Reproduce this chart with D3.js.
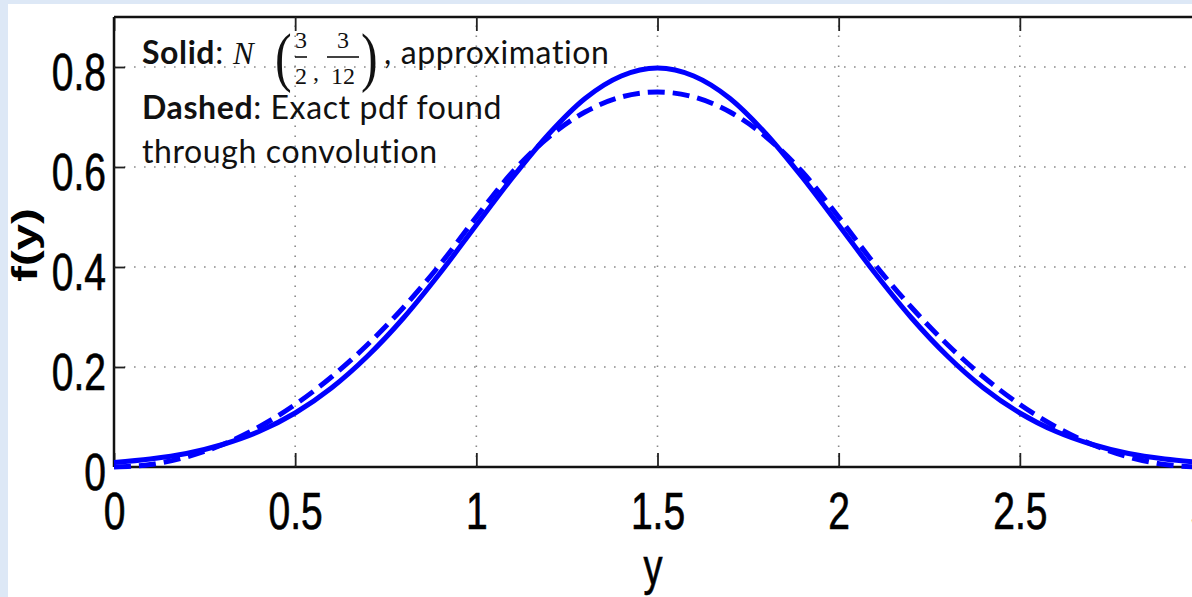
<!DOCTYPE html>
<html><head><meta charset="utf-8">
<script src="https://cdn.jsdelivr.net/npm/d3@7"></script>
<style>body{margin:0;background:#fff;overflow:hidden}</style>
</head><body><svg id="c" width="1192" height="597"></svg>
<script>
// ---- data ----
const yPoints = [0,0.1,0.2,0.3,0.4,0.5,0.6,0.7,0.8,0.9,1.0,1.1,1.2,1.3,1.4,1.5,1.6,1.7,1.8,1.9,2.0,2.1,2.2,2.3,2.4,2.5,2.6,2.7,2.8,2.9,3.0];
const solidApprox = [0.009,0.016,0.027,0.045,0.071,0.108,0.158,0.222,0.299,0.388,0.484,0.579,0.666,0.737,0.782,0.798,0.782,0.737,0.666,0.579,0.484,0.388,0.299,0.222,0.158,0.108,0.071,0.045,0.027,0.016,0.009];
const dashedExact = [0,0.005,0.02,0.045,0.08,0.125,0.18,0.245,0.32,0.405,0.5,0.59,0.66,0.71,0.74,0.75,0.74,0.71,0.66,0.59,0.5,0.405,0.32,0.245,0.18,0.125,0.08,0.045,0.02,0.005,0];
const xTicks = [0,0.5,1,1.5,2,2.5,3];
const xTickLabels = ["0","0.5","1","1.5","2","2.5","3"];
const yTicks = [0,0.2,0.4,0.6,0.8];
const yTickLabels = ["0","0.2","0.4","0.6","0.8"];
const xTitle = "y";
const yTitle = "f(y)";

// ---- layout ----
const svg = d3.select("#c");
const L = 114, R = 1201, T = 17, B = 467;
const x = d3.scaleLinear().domain([0,3]).range([L,R]);
const y = d3.scaleLinear().domain([0,0.9]).range([B,T]);
const tickFont = "'Liberation Sans Narrow','Liberation Sans',Arial,sans-serif";

// page decoration
svg.append("rect").attr("x",0).attr("y",0).attr("width",1192).attr("height",597).attr("fill","#fff");
svg.append("rect").attr("x",0).attr("y",0).attr("width",1192).attr("height",4).attr("fill","#dde8f6");
svg.append("rect").attr("x",0).attr("y",0).attr("width",8).attr("height",597).attr("fill","#dde8f6");

// grid
const grid = svg.append("g").attr("stroke","#8a8a8a").attr("stroke-width",1.6).attr("stroke-dasharray","1.6,8.4");
grid.selectAll("line.gx").data(xTicks.filter(d=>d>0)).join("line")
  .attr("x1",d=>x(d)).attr("x2",d=>x(d)).attr("y1",B).attr("y2",T);
grid.selectAll("line.gy").data(yTicks.filter(d=>d>0)).join("line")
  .attr("x1",L).attr("x2",R).attr("y1",d=>y(d)).attr("y2",d=>y(d));

// axes
const ax = svg.append("g").attr("transform",`translate(0,${B})`)
  .call(d3.axisBottom(x).tickValues(xTicks).tickFormat((d,i)=>xTickLabels[i]).tickSizeInner(-14).tickSizeOuter(0));
ax.selectAll("text").attr("y",0).attr("dy",null).attr("transform","translate(0,62) scale(1,1.35)");
const axT = svg.append("g").attr("transform",`translate(0,${T})`)
  .call(d3.axisTop(x).tickValues(xTicks).tickFormat("").tickSizeInner(-14).tickSizeOuter(0));
const ay = svg.append("g").attr("transform",`translate(${L},0)`)
  .call(d3.axisLeft(y).tickValues(yTicks).tickFormat((d,i)=>yTickLabels[i]).tickSizeInner(-11).tickSizeOuter(0));
ay.selectAll("text").attr("x",0).attr("dy",null).attr("transform","translate(-8,22) scale(1,1.35)");
[ax,axT,ay].forEach(g=>{
  g.select(".domain").attr("stroke","#111").attr("stroke-width",2.5);
  g.selectAll(".tick line").attr("stroke","#222").attr("stroke-width",1.8);
  g.selectAll("text").attr("fill","#000").attr("stroke","#000").attr("stroke-width",0.5)
    .style("font-family",tickFont).style("font-size","39px");
});
ax.select(".domain").attr("d",`M${L},0H${R}`);
axT.select(".domain").attr("d",`M${L},0H${R}`);
ay.select(".domain").attr("d",`M0,${B}V${T}`);

// axis titles
svg.append("text").text(xTitle).attr("transform","translate(653,584) scale(1,1.35)")
  .attr("text-anchor","middle").style("font-family",tickFont).style("font-size","38px")
  .attr("fill","#000").attr("stroke","#000").attr("stroke-width",0.5);
svg.append("text").text(yTitle).attr("transform","translate(37,245) scale(1,1.35) rotate(-90)")
  .attr("text-anchor","middle").style("font-family","'Liberation Sans',Arial,sans-serif").style("font-weight","bold").style("font-size","35px").attr("fill","#000");

// curves
const line = d3.line().x((d,i)=>x(yPoints[i])).y(d=>y(d)).curve(d3.curveMonotoneX);
svg.append("path").datum(dashedExact).attr("d",line).attr("fill","none").attr("stroke","#0000ff")
  .attr("stroke-width",5).attr("stroke-dasharray","17,8");
svg.append("path").datum(solidApprox).attr("d",line).attr("fill","none").attr("stroke","#0000ff")
  .attr("stroke-width",5);

// annotation
const ann = svg.append("g").attr("fill","#111")
  .style("font-family","Lato,'Open Sans',sans-serif").style("font-size","32px")
  .style("letter-spacing","0.6px").style("font-variant-ligatures","none");
const serif = "'Liberation Serif','DejaVu Serif',serif";
const t1 = ann.append("text").attr("x",142).attr("y",64);
t1.append("tspan").text("Solid").style("font-weight","bold");
t1.append("tspan").text(":");
ann.append("text").text("N").attr("x",233).attr("y",64)
  .style("font-family",serif).style("font-style","italic").style("font-size","31px").style("letter-spacing","0px");
ann.append("text").text("(").attr("transform","translate(275,79) scale(1,1.3)")
  .style("font-family",serif).style("font-size","50px").style("letter-spacing","0px");
ann.append("text").text(")").attr("transform","translate(361,79) scale(1,1.3)")
  .style("font-family",serif).style("font-size","50px").style("letter-spacing","0px");
function frac(cx, num, den, w){
  ann.append("text").text(num).attr("x",cx).attr("y",48).attr("text-anchor","middle")
    .style("font-family",serif).style("font-size","24px").style("letter-spacing","0px");
  ann.append("line").attr("x1",cx-w/2).attr("x2",cx+w/2).attr("y1",57).attr("y2",57).attr("stroke","#111").attr("stroke-width",1.6);
  ann.append("text").text(den).attr("x",cx).attr("y",84).attr("text-anchor","middle")
    .style("font-family",serif).style("font-size","24px").style("letter-spacing","0px");
}
frac(301,"3","2",12);
ann.append("text").text(",").attr("x",313).attr("y",80).style("font-family",serif).style("font-size","24px");
frac(343,"3","12",32);
ann.append("text").text(", approximation").attr("x",384).attr("y",64);
const t2 = ann.append("text").attr("x",142).attr("y",119);
t2.append("tspan").text("Dashed").style("font-weight","bold");
t2.append("tspan").text(": Exact pdf found");
ann.append("text").text("through convolution").attr("x",142).attr("y",163);
</script></body></html>
